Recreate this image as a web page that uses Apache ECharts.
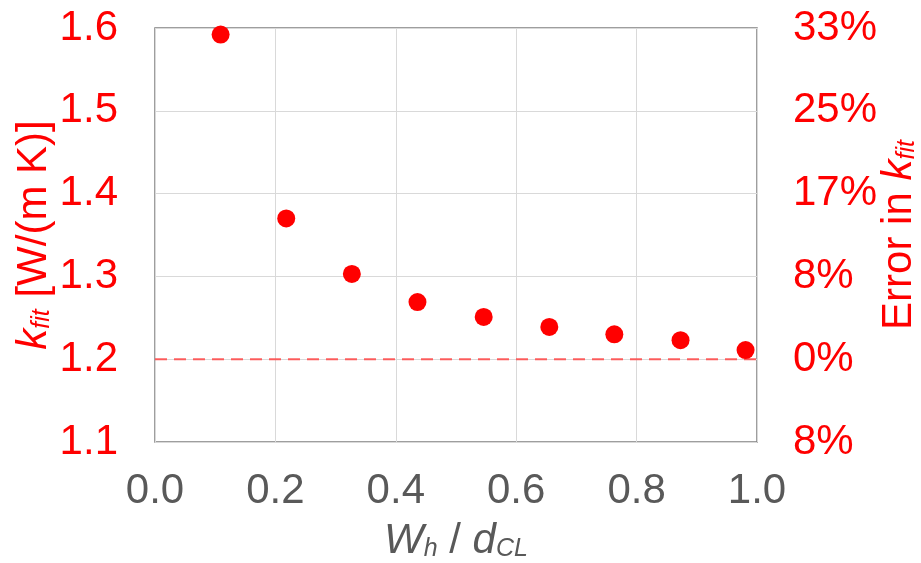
<!DOCTYPE html>
<html>
<head>
<meta charset="utf-8">
<script src="https://cdn.jsdelivr.net/npm/echarts@6/dist/echarts.min.js"></script>
<style>
html,body{margin:0;padding:0;background:#fff;}
#chart{width:921px;height:563px;}
</style>
</head>
<body>
<div id="chart"></div>
<script>
// Data
const xValues = [0.109, 0.218, 0.327, 0.436, 0.546, 0.655, 0.763, 0.873, 0.981];
const kFit = [1.592, 1.370, 1.303, 1.269, 1.251, 1.239, 1.230, 1.223, 1.211];
const referenceK = 1.2;
const xTickLabels = ['0.0', '0.2', '0.4', '0.6', '0.8', '1.0'];
const leftTickLabels = ['1.1', '1.2', '1.3', '1.4', '1.5', '1.6'];
const rightTickLabels = ['8%', '0%', '8%', '17%', '25%', '33%'];

const FONT = '"Liberation Sans", Arial, sans-serif';
const RED = '#ff0000';
const GRAY = '#595959';
const FS = 42;

const richCommon = (color) => ({
  i: { fontStyle: 'italic', fontSize: FS, lineHeight: FS, color: color, fontFamily: FONT },
  s: { fontStyle: 'italic', fontSize: 25, lineHeight: 14, verticalAlign: 'bottom', color: color, fontFamily: FONT },
  n: { fontSize: FS, lineHeight: FS, color: color, fontFamily: FONT }
});

const chart = echarts.init(document.getElementById('chart'), null, { renderer: 'canvas' });

chart.setOption({
  animation: false,
  backgroundColor: '#ffffff',
  grid: {
    left: 155, right: 164, top: 28, bottom: 121,
    outerBoundsMode: 'none', containLabel: false,
    show: true, borderColor: '#7f7f7f', borderWidth: 1.5, backgroundColor: 'transparent'
  },
  xAxis: {
    type: 'value', min: 0, max: 1.0, interval: 0.2,
    axisLine: { show: false }, axisTick: { show: false },
    splitLine: { show: true, lineStyle: { color: '#d9d9d9', width: 1 } },
    axisLabel: {
      color: GRAY, fontSize: FS, fontFamily: FONT, margin: 28,
      formatter: (v, i) => xTickLabels[Math.round(v / 0.2)]
    },
    name: '{i|W}{s|h}{n| / }{i|d}{s|CL}',
    nameLocation: 'middle', nameGap: 78, nameMoveOverlap: false,
    nameTextStyle: { color: GRAY, fontSize: FS, lineHeight: FS, fontFamily: FONT, rich: richCommon(GRAY) }
  },
  yAxis: [
    {
      type: 'value', min: 1.1, max: 1.6, interval: 0.1, position: 'left',
      axisLine: { show: false }, axisTick: { show: false },
      splitLine: { show: true, lineStyle: { color: '#d9d9d9', width: 1 } },
      axisLabel: {
        color: RED, fontSize: FS, fontFamily: FONT, margin: 37,
        formatter: (v) => leftTickLabels[Math.round((v - 1.1) / 0.1)]
      },
      name: '{i|k}{s|fit}{n| [W/(m K)]}',
      nameLocation: 'middle', nameRotate: 90, nameGap: 100, nameMoveOverlap: false,
      nameTextStyle: { color: RED, fontSize: FS, lineHeight: FS, fontFamily: FONT, rich: richCommon(RED) }
    },
    {
      type: 'value', min: 1.1, max: 1.6, interval: 0.1, position: 'right',
      axisLine: { show: false }, axisTick: { show: false },
      splitLine: { show: false },
      axisLabel: {
        color: RED, fontSize: FS, fontFamily: FONT, margin: 36,
        formatter: (v) => rightTickLabels[Math.round((v - 1.1) / 0.1)]
      },
      name: '{n|Error in }{i|k}{s|fit}',
      nameLocation: 'middle', nameRotate: 90, nameGap: 121, nameMoveOverlap: false,
      nameTextStyle: { color: RED, fontSize: FS, lineHeight: FS, fontFamily: FONT, rich: richCommon(RED) }
    }
  ],
  series: [
    {
      type: 'line',
      data: [[0, referenceK], [1.0, referenceK]],
      symbol: 'none',
      lineStyle: { color: '#f44', width: 2, type: [12, 7], opacity: 0.85 },
      z: 2, silent: true
    },
    {
      type: 'scatter',
      data: xValues.map((x, i) => [x, kFit[i]]),
      symbol: 'circle', symbolSize: 18,
      itemStyle: { color: RED, opacity: 1 },
      z: 3
    }
  ]
});
</script>
</body>
</html>
